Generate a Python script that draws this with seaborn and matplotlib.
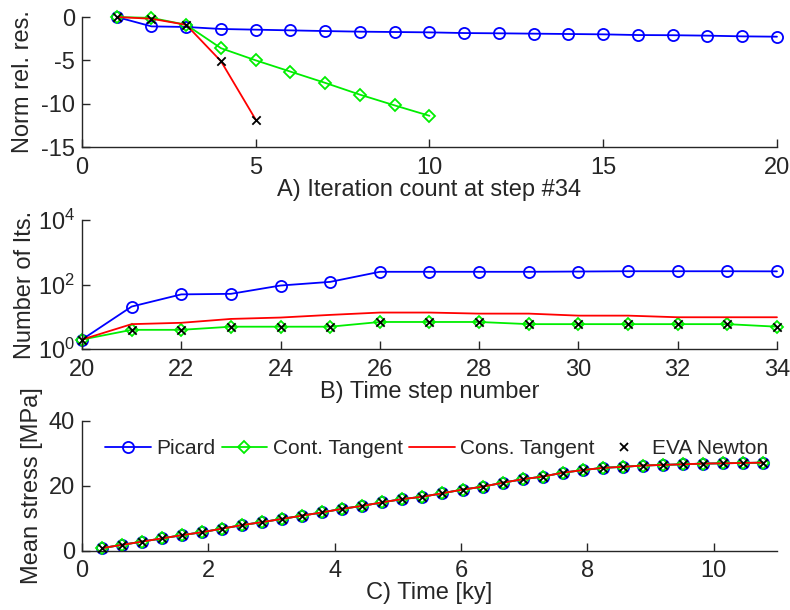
import numpy as np
import pandas as pd
import matplotlib
matplotlib.use("Agg")
import matplotlib.pyplot as plt
import seaborn as sns
from matplotlib.lines import Line2D

# ---------------- Data ----------------
# Panel A: normalised relative residual vs iteration (step #34)
iters_picard = list(range(1, 21))
res_picard = [0.0, -1.08, -1.15, -1.38, -1.46, -1.54, -1.62, -1.69, -1.73, -1.77,
              -1.85, -1.88, -1.92, -1.96, -2.0, -2.08, -2.1, -2.15, -2.23, -2.27]
iters_cont = list(range(1, 11))
res_cont = [0.0, -0.1, -0.9, -3.6, -5.0, -6.3, -7.6, -8.96, -10.2, -11.4]
iters_cons = [1, 2, 3, 4, 5]
res_cons = [0.0, -0.2, -0.9, -5.1, -11.85]
iters_eva = [1, 2, 3, 4, 5]
res_eva = [0.0, -0.2, -0.9, -5.1, -11.85]

# Panel B: number of iterations per time step
steps = list(range(20, 35))
its_picard = [2, 21, 50, 52, 94, 122, 250, 250, 250, 250, 255, 260, 260, 260, 258]
its_cont = [2, 4, 4, 5, 5, 5, 7, 7, 7, 6, 6, 6, 6, 6, 5]
its_cons = [2, 6, 6.6, 8.7, 9.6, 11.6, 13.7, 13.7, 12.7, 12.7, 11, 11, 9.8, 9.8, 9.8]
its_eva = [2, 4, 4, 5, 5, 5, 7, 7, 7, 6, 6, 6, 6, 6, 5]

# Panel C: mean stress vs time
time_ky = [0.317, 0.634, 0.951, 1.268, 1.585, 1.902, 2.219, 2.536, 2.853, 3.17,
           3.487, 3.804, 4.121, 4.438, 4.755, 5.072, 5.389, 5.706, 6.023, 6.34,
           6.657, 6.974, 7.291, 7.608, 7.925, 8.242, 8.559, 8.876, 9.193, 9.51,
           9.827, 10.144, 10.461, 10.778]
stress = [0.8, 1.8, 2.8, 3.8, 4.8, 5.7, 6.8, 7.9, 8.8, 9.8,
          10.8, 11.8, 12.9, 13.8, 14.9, 15.9, 16.6, 17.7, 18.8, 19.7,
          20.9, 22.0, 22.8, 24.0, 24.8, 25.5, 25.8, 26.2, 26.4, 26.6,
          26.8, 26.9, 27.0, 27.1]

labels = ["Picard", "Cont. Tangent", "Cons. Tangent", "EVA Newton"]

# ---------------- Style ----------------
FS = 17
LFS = 15
sns.set_theme(style="ticks")
plt.rcParams['font.family'] = ['Liberation Sans', 'DejaVu Sans']
plt.rcParams['axes.unicode_minus'] = False
plt.rcParams['font.size'] = FS
TXT = '#262626'

fig = plt.figure(figsize=(7.9, 6.1), dpi=100)
axA = fig.add_axes([0.1038, 0.759, 0.8797, 0.2131])
axB = fig.add_axes([0.1038, 0.4274, 0.8797, 0.2119])
axC = fig.add_axes([0.1038, 0.0972, 0.8797, 0.2131])

LW = 1.3
circ = dict(marker='o', markersize=8, markerfacecolor='none', markeredgecolor='blue',
            markeredgewidth=1.3)
diam = dict(marker='D', markersize=6.5, markerfacecolor='none', markeredgecolor='#00ee00',
            markeredgewidth=1.3)


def draw(ax, x1, y1, x2, y2, x3, y3, x4, y4):
    sns.lineplot(x=x1, y=y1, ax=ax, color='blue', lw=LW, clip_on=False, **circ)
    sns.lineplot(x=x2, y=y2, ax=ax, color='#00ee00', lw=LW, clip_on=False, **diam)
    sns.lineplot(x=x3, y=y3, ax=ax, color='red', lw=LW, clip_on=False)
    sns.scatterplot(x=x4, y=y4, ax=ax, color='black', marker='x', s=36,
                    linewidth=1.3, clip_on=False, zorder=5)


draw(axA, iters_picard, res_picard, iters_cont, res_cont, iters_cons, res_cons,
     iters_eva, res_eva)
axA.set_xlim(0, 20)
axA.set_ylim(-15, 0)
axA.set_xticks([0, 5, 10, 15, 20])
axA.set_yticks([0, -5, -10, -15])
axA.set_xlabel("A) Iteration count at step #34", labelpad=0)
axA.set_ylabel("Norm rel. res.", labelpad=5)

draw(axB, steps, its_picard, steps, its_cont, steps, its_cons, steps, its_eva)
axB.set_yscale('log')
axB.set_xlim(20, 34)
axB.set_ylim(1, 1e4)
axB.set_xticks(list(range(20, 35, 2)))
axB.set_yticks([1, 100, 10000])
axB.yaxis.set_minor_locator(matplotlib.ticker.NullLocator())
axB.set_xlabel("B) Time step number", labelpad=0)
axB.set_ylabel("Number of Its.", labelpad=1)

draw(axC, time_ky, stress, time_ky, stress, time_ky, stress, time_ky, stress)
axC.set_xlim(0, 11)
axC.set_ylim(0, 40)
axC.set_xticks([0, 2, 4, 6, 8, 10])
axC.set_yticks([0, 20, 40])
axC.set_xlabel("C) Time [ky]", labelpad=0)
axC.set_ylabel("Mean stress [MPa]", labelpad=4)

for ax in (axA, axB, axC):
    sns.despine(ax=ax)
    for s in ('left', 'bottom'):
        ax.spines[s].set_color(TXT)
        ax.spines[s].set_linewidth(1.0)
    ax.tick_params(direction='in', length=6, width=1.0, colors=TXT, labelsize=FS)
    ax.tick_params(axis='x', pad=7)
    ax.tick_params(axis='y', pad=5)
    ax.xaxis.label.set_color(TXT)
    ax.yaxis.label.set_color(TXT)
    ax.xaxis.label.set_size(FS)
    ax.yaxis.label.set_size(FS)
    if ax.get_legend() is not None:
        ax.get_legend().remove()

handles = [
    Line2D([], [], color='blue', lw=LW, **circ),
    Line2D([], [], color='#00ee00', lw=LW, **diam),
    Line2D([], [], color='red', lw=LW),
    Line2D([], [], color='black', lw=0, marker='x', markersize=6, markeredgewidth=1.3),
]
axC.legend(handles, labels, ncol=4, frameon=False, loc='upper center',
           bbox_to_anchor=(0.51, 0.97), handlelength=2.2, handletextpad=0.25,
           columnspacing=0.3, fontsize=LFS, labelcolor=TXT, borderpad=0.2)

fig.savefig("out.png", dpi=100)
